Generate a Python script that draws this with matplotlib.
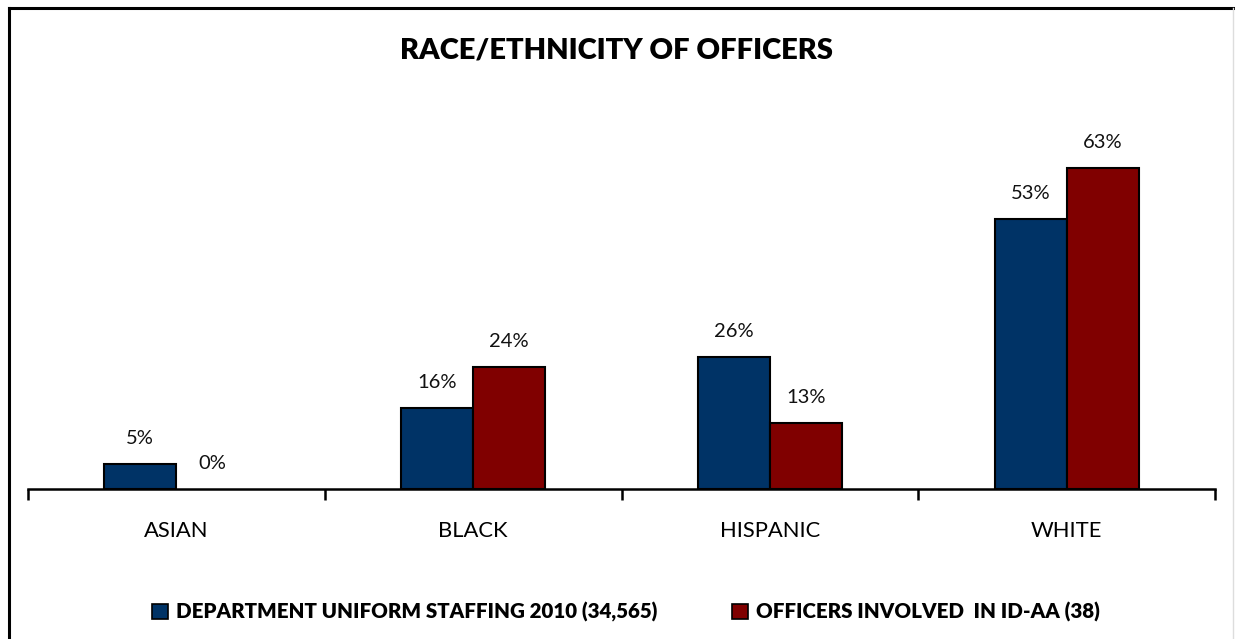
import numpy as np
import matplotlib
matplotlib.use("Agg")
import matplotlib.pyplot as plt
from matplotlib.lines import Line2D
from matplotlib.patches import Patch

plt.rcParams['font.family'] = ['Lato', 'DejaVu Sans']

categories = ['ASIAN', 'BLACK', 'HISPANIC', 'WHITE']
staffing = [5, 16, 26, 53]
involved = [0, 24, 13, 63]
series_names = ['DEPARTMENT UNIFORM STAFFING 2010 (34,565)',
                'OFFICERS INVOLVED  IN ID-AA (38)']
colors = ['#003366', '#800000']

W, H = 1235, 639
fig = plt.figure(figsize=(W / 100, H / 100), dpi=100)

# plot area in pixel terms
left, right, base, top = 28, 1215, 489, 107
ax = fig.add_axes([left / W, (H - base) / H, (right - left) / W, (base - top) / H])

x = np.arange(len(categories))
bw = 0.243
b1 = ax.bar(x - bw / 2, staffing, bw, color=colors[0], edgecolor='black', linewidth=1.5)
b2 = ax.bar(x + bw / 2, involved, bw, color=colors[1], edgecolor='black', linewidth=1.5)

for bars, vals in [(b1, staffing), (b2, involved)]:
    for r, v in zip(bars, vals):
        if v == 0:
            r.set_linewidth(0)
        ax.annotate(f'{v}%', (r.get_x() + r.get_width() / 2, v),
                    xytext=(0, 12), textcoords='offset points',
                    ha='center', va='bottom', fontsize=14.5, color='#111111')

ax.set_xlim(-0.5, len(categories) - 0.5)
ax.set_ylim(0, 75)
ax.set_yticks([])
for s in ['top', 'right', 'left']:
    ax.spines[s].set_visible(False)
ax.spines['bottom'].set_linewidth(1.8)

ax.set_xticks(np.arange(len(categories) + 1) - 0.5)
ax.set_xticklabels([])
ax.tick_params(axis='x', which='major', length=8, width=1.8, direction='out')
ax.set_xticks(x, minor=True)
ax.set_xticklabels(categories, minor=True, fontsize=15.8)
ax.tick_params(axis='x', which='minor', length=0, pad=23)

fig.text(616 / W, 1 - 50 / H, 'RACE/ETHNICITY OF OFFICERS', ha='center', va='center',
         fontsize=21, fontweight='heavy')

handles = [Patch(facecolor=c, edgecolor='black', linewidth=1.2) for c in colors]
fig.legend(handles, series_names, loc='center', bbox_to_anchor=(626 / W, 1 - 612 / H),
           ncol=2, frameon=False, prop={'weight': 'heavy', 'size': 14.8},
           handlelength=0.8, handleheight=0.8, handletextpad=0.4, columnspacing=3.6)

# chart border
fig.add_artist(Line2D([8.5 / W, 8.5 / W], [0, 1 - 8 / H], color='black', lw=2.2))
fig.add_artist(Line2D([8.5 / W, 1], [1 - 8 / H, 1 - 8 / H], color='black', lw=2.2))
fig.add_artist(Line2D([1233 / W, 1233 / W], [0, 1 - 8 / H], color='#dddddd', lw=1))

fig.savefig('out.png', dpi=100)
